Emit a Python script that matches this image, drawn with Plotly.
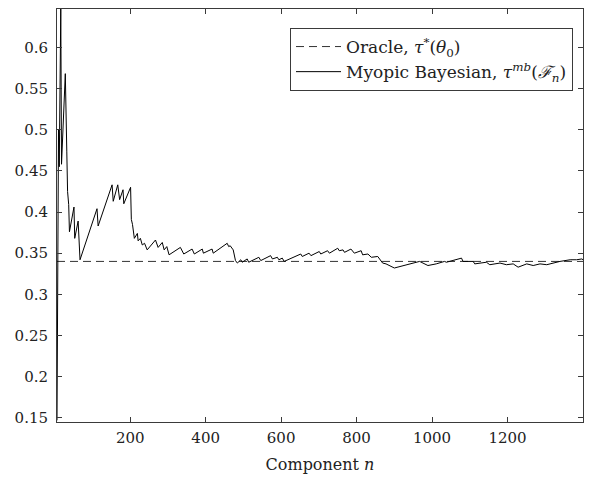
import plotly.graph_objects as go

# Component index n and myopic Bayesian threshold values
n_values = [6, 8, 10, 12, 16, 18, 28, 32, 34, 37, 39, 51, 53, 62, 65, 67,
            112, 115, 152, 155, 167, 172, 181, 183, 201, 203, 206, 211, 219, 221,
            227, 232, 238, 245, 267, 274, 285, 290, 297, 303, 333, 342, 364, 370,
            391, 394, 417, 420, 457, 461, 465, 473, 479, 484, 493, 497, 510, 514,
            541, 546, 572, 577, 590, 594, 603, 608, 652, 656, 674, 679, 701, 705,
            723, 728, 750, 754, 764, 768, 785, 794, 812, 816, 830, 839, 856, 861,
            869, 878, 900, 967, 989, 1011, 1033, 1038, 1078, 1082, 1109, 1113,
            1144, 1153, 1180, 1197, 1215, 1228, 1251, 1268, 1286, 1304, 1339,
            1366, 1383, 1397, 1400]
tau_mb = [0.147, 0.44, 0.50, 0.455, 0.6465, 0.458, 0.568, 0.473, 0.425, 0.409,
          0.376, 0.406, 0.368, 0.389, 0.362, 0.342,
          0.404, 0.383, 0.433, 0.413, 0.433, 0.415, 0.427, 0.410, 0.430, 0.391,
          0.385, 0.368, 0.374, 0.365,
          0.368, 0.360, 0.362, 0.354, 0.366, 0.357, 0.363, 0.354, 0.358, 0.348,
          0.357, 0.349, 0.355, 0.349,
          0.355, 0.350, 0.355, 0.350, 0.362, 0.358, 0.359, 0.354, 0.341, 0.338,
          0.342, 0.339, 0.343, 0.339,
          0.345, 0.341, 0.347, 0.343, 0.345, 0.342, 0.344, 0.340, 0.349, 0.346,
          0.350, 0.347, 0.352, 0.349,
          0.353, 0.350, 0.356, 0.353, 0.354, 0.351, 0.355, 0.350, 0.353, 0.348,
          0.349, 0.345, 0.346, 0.343,
          0.338, 0.337, 0.332, 0.340, 0.335, 0.337, 0.340, 0.339, 0.344, 0.340,
          0.340, 0.337,
          0.339, 0.336, 0.338, 0.336, 0.337, 0.333, 0.337, 0.335, 0.337, 0.336,
          0.340,
          0.342, 0.342, 0.343, 0.342]

oracle_value = 0.34
x_range = [6, 1400]
y_range = [0.145, 0.6465]

x_tick_vals = [200, 400, 600, 800, 1000, 1200]
x_tick_text = ["200", "400", "600", "800", "1000", "1200"]
y_tick_vals = [0.15, 0.2, 0.25, 0.3, 0.35, 0.4, 0.45, 0.5, 0.55, 0.6]
y_tick_text = ["0.15", "0.2", "0.25", "0.3", "0.35", "0.4", "0.45", "0.5", "0.55", "0.6"]

FONT = "DejaVu Serif, Liberation Serif, serif"
AX = "#3a3a3a"

fig = go.Figure()
fig.add_trace(go.Scatter(
    x=x_range, y=[oracle_value, oracle_value], mode="lines",
    line=dict(color="#333333", width=1, dash="8px,5px"),
    name="Oracle, <i>τ</i><sup>*</sup>(<i>θ</i><sub>0</sub>)",
))
fig.add_trace(go.Scatter(
    x=n_values, y=tau_mb, mode="lines",
    line=dict(color="black", width=1),
    name="Myopic Bayesian, <i>τ</i><sup><i>mb</i></sup>(<i>ℱ</i><sub><i>n</i></sub>)",
))

axis_common = dict(
    showgrid=False, zeroline=False, showline=True, linecolor=AX, linewidth=1,
    mirror="ticks", ticks="inside", ticklen=5, tickcolor=AX, automargin=False,
    tickfont=dict(family=FONT, size=15, color="#222222"),
)
fig.update_xaxes(range=x_range, tickvals=x_tick_vals, ticktext=x_tick_text,
                 ticklabelstandoff=2,
                 title=dict(text="Component <i>n</i>", font=dict(family=FONT, size=16, color="#222222"),
                            standoff=12),
                 **axis_common)
fig.update_yaxes(range=y_range, tickvals=y_tick_vals, ticktext=y_tick_text,
                 ticklabelstandoff=5, **axis_common)

fig.update_layout(
    width=593, height=478,
    margin=dict(l=49, r=18, t=1, b=64),
    paper_bgcolor="white", plot_bgcolor="white",
    font=dict(family=FONT, color="#222222"),
    legend=dict(
        x=0.981, y=0.954, xanchor="right", yanchor="top",
        bgcolor="white", bordercolor=AX, borderwidth=1,
        font=dict(family=FONT, size=17, color="#222222"),
        itemwidth=45, tracegroupgap=0,
    ),
    showlegend=True,
)

fig.write_html("out.html")
